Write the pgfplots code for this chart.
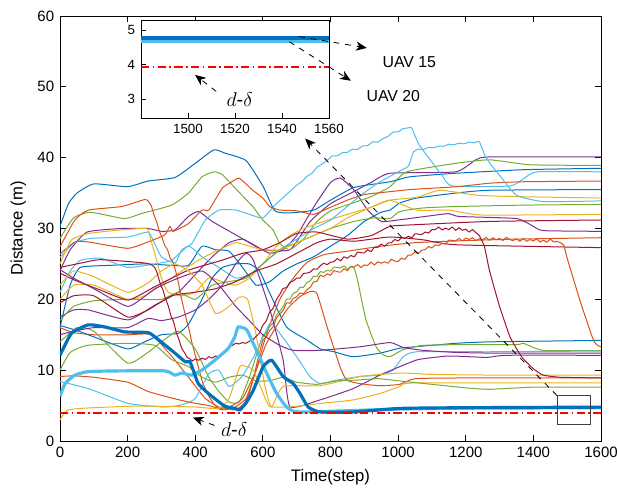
\documentclass[border=0pt]{standalone}
\usepackage{fontspec}
\setmainfont{Liberation Sans}
\usepackage{pgfplots}
\pgfplotsset{compat=1.18}
\usetikzlibrary{arrows.meta}
\definecolor{mb}{RGB}{0,114,189}
\definecolor{mo}{RGB}{217,83,25}
\definecolor{my}{RGB}{237,177,32}
\definecolor{mp}{RGB}{126,47,142}
\definecolor{mg}{RGB}{119,172,48}
\definecolor{mc}{RGB}{77,190,238}
\definecolor{mr}{RGB}{162,20,47}
\tikzset{
  ln/.style={line width=0.6pt, smooth, tension=0.3},
  fat/.style={line width=1.9pt, smooth, tension=0.3},
  ann/.style={black, line width=0.5pt, dash pattern=on 3.5pt off 3.5pt,
    -{Stealth[length=6.5pt,width=5.5pt,inset=2pt]}},
}
\begin{document}
\begin{tikzpicture}
\useasboundingbox (-36pt,-31.8pt) rectangle (334.8pt,264.6pt);
\begin{axis}[
  name=main, at={(0pt,0pt)}, anchor=south west,
  scale only axis, width=324.6pt, height=255pt,
  xmin=0, xmax=1600, ymin=0, ymax=60,
  xtick={0,200,...,1600}, ytick={0,10,...,60},
  tick align=inside, xtick pos=both, ytick pos=both,
  major tick length=3.5pt,
  tick style={black, line width=0.5pt},
  axis line style={line width=0.5pt},
  xlabel={Time(step)}, ylabel={Distance (m)},
  no markers,
  /pgf/number format/assume math mode=true,
  /pgf/number format/1000 sep={},
  tick label style={font=\fontsize{9}{11}\selectfont},
  label style={font=\fontsize{10}{12}\selectfont},
]
% high-ending lines
\addplot[mp,ln] coordinates {(0,24)(30,27)(80,29.5)(180,30)(260,30)(300,29.6)(340,29.8)(380,31.7)(410,32.4)(450,31)(520,29.1)(560,28)(600,27)(680,27)(740,31)(800,33.5)(860,35)(920,36.5)(976,37.8)(1170,38)(1230,39.7)(1270,40.1)(1600,40.1)};
\addplot[mp,ln] coordinates {(0,17.5)(40,18.5)(84,18.5)(202,17.1)(281,19.2)(350,21)(400,23.5)(450,26)(500,28)(540,28.5)(580,27.5)(620,26.5)(660,27)(700,29)(750,33)(800,36.5)(830,37.1)(870,35.4)(910,32.6)(950,31)(1000,31.2)(1080,31.7)(1150,32.1)(1180,31.7)(1350,31.4)(1400,30.3)(1430,29.7)(1600,29.6)};
\addplot[mg,ln] coordinates {(0,28.6)(40,31.5)(90,32.3)(190,31.4)(240,32.1)(330,33.3)(380,35)(420,37.3)(455,38)(480,37.6)(520,35.6)(570,33.1)(600,31.2)(630,29.8)(650,27.9)(680,27)(720,28.5)(760,31)(800,32.5)(860,33.5)(920,34.5)(976,35.9)(1025,38)(1170,39.2)(1270,39.7)(1390,39)(1600,38.9)};
\addplot[mb,ln] coordinates {(0,30.3)(25,33.5)(50,35)(100,36.3)(200,35.9)(260,36.7)(340,37.2)(400,39.2)(455,41.1)(490,40.6)(550,39.6)(600,36)(635,32.5)(680,32.2)(750,32.6)(800,34)(870,35.8)(976,36.6)(1035,37.3)(1170,37.8)(1370,38.3)(1600,38.5)};
\addplot[mc,ln] coordinates {(0,25.9)(40,27.9)(90,28.6)(200,28.8)(260,29.5)(275,28.4)(300,26)(340,25.1)(360,27)(390,27.9)(430,31.2)(470,32.6)(520,32.6)(560,32)(600,31.5)(640,33.5)(700,36.1)(715,36.6)(730,37.35)(745,37.8)(760,38.65)(775,39.1)(790,39.6)(805,40.25)(820,40.25)(835,40.7)(850,40.75)(865,41.2)(880,41.15)(895,41.65)(910,41.7)(925,42.25)(940,42.2)(955,42.7)(970,43.0)(985,43.6)(1000,43.65)(1015,44.1)(1030,44.2)(1040,44.2)(1060,42)(1090,40)(1130,37.5)(1160,36)(1330,36)(1370,37)(1410,38)(1600,38)};
\addplot[mo,ln] coordinates {(0,26.4)(44,28.1)(84,28.1)(200,27.2)(260,28.1)(310,29.1)(325,30.3)(335,29.6)(380,30.7)(420,32.6)(440,32.6)(480,35.7)(505,36.5)(530,37.1)(570,35.4)(600,34.3)(620,33.1)(650,32.6)(700,32.5)(750,32)(800,33)(850,34)(900,34.8)(976,35.2)(1035,35.5)(1173,35.9)(1272,36.4)(1370,36.6)(1600,36.7)};
\addplot[mb,ln] coordinates {(0,16)(30,22)(60,24.5)(150,24.8)(250,25)(330,24.8)(380,24.8)(420,27.5)(460,27)(500,26.8)(540,24.5)(580,22)(620,22.5)(660,24)(700,25)(750,26)(800,27.5)(850,29)(900,31)(950,32.3)(976,32.6)(1005,33.6)(1055,34.3)(1170,35)(1270,35.4)(1600,35.5)};
\addplot[my,ln] coordinates {(0,25)(34,28.4)(84,29.3)(180,29.8)(256,30)(266,28.8)(280,26.5)(300,23)(320,21)(360,20.5)(400,21)(440,23)(480,22.5)(520,22)(560,23)(600,25)(640,27.5)(680,29)(720,30)(780,31)(850,32)(920,33)(976,34)(1055,34.4)(1124,35.4)(1232,34.7)(1350,34.5)(1600,34.3)};
\addplot[mc,ln] coordinates {(0,21)(30,24)(60,25.5)(120,25.8)(200,24.5)(280,25)(330,25.5)(380,27.5)(420,26)(470,24.5)(520,23)(560,23.5)(600,25)(650,27)(700,28.5)(750,30)(800,31.2)(890,34.7)(940,36.4)(1000,38)(1030,38.8)(1045,40.8)(1060,41.2)(1075,41.15)(1090,41.45)(1105,41.4)(1120,41.65)(1135,41.6)(1150,41.9)(1165,41.8)(1180,42.05)(1195,41.95)(1210,42.2)(1225,42.1)(1240,42.25)(1260,40)(1300,37.5)(1350,34.7)(1430,33.8)(1600,33.9)};
\addplot[mg,ln] coordinates {(0,17)(40,19)(100,19.8)(200,20)(300,20)(350,21)(400,20)(450,22)(500,22.5)(550,23)(600,25)(650,27)(700,28)(750,29)(800,30)(870,31)(930,31.5)(976,31.4)(1005,32.4)(1074,32.9)(1170,33.1)(1370,33.3)(1600,33.4)};
\addplot[my,ln] coordinates {(0,20)(40,22)(100,22)(200,20)(250,20.5)(300,22)(360,24)(420,25.8)(470,27)(520,28)(560,27.5)(600,27)(650,27)(700,28)(750,29)(800,30)(850,31.5)(920,33)(976,34)(1055,32.6)(1150,32.6)(1250,31.9)(1600,32)};
\addplot[mr,ln] coordinates {(0,23.7)(44,22.7)(120,21.3)(202,19.9)(281,21.8)(379,24.1)(478,25.5)(540,26.5)(600,27)(650,28)(700,29.3)(760,29.5)(850,28.5)(920,29)(976,30.3)(1035,30.5)(1272,31)(1600,31.2)};
\addplot[mo,ln] coordinates {(0,16)(40,15.3)(100,15)(200,15)(270,15)(330,12)(380,9)(430,6)(470,4.8)(510,4.6)(550,6)(580,10)(610,15)(650,20)(690,23)(730,25.2)(780,26.3)(850,26.8)(950,27.5)(1050,28)(1200,28.3)(1350,28.5)(1600,28.7)};
\addplot[mr,ln] coordinates {(0,19.5)(40,20.5)(100,20.5)(200,17.5)(260,18.5)(330,20.5)(400,21)(460,21.5)(520,22.5)(580,24)(640,25)(700,26.5)(760,28)(800,28.5)(870,28.2)(976,28.8)(1074,28.4)(1173,27.7)(1600,27.3)};
% low-ending lines
\addplot[mb,ln] coordinates {(0,16.3)(50,15.6)(100,14.7)(200,13)(250,14)(300,15)(350,15.2)(380,16.5)(420,20)(450,23)(480,24.5)(520,25)(560,25)(590,24)(621,20.8)(670,16.1)(729,14.3)(770,13)(810,12.6)(867,11.9)(946,12.4)(1005,13.1)(1074,13.4)(1173,13.8)(1272,14)(1600,14.2)};
\addplot[mo,ln] coordinates {(0,27.4)(44,31.2)(84,32.6)(182,33.1)(251,34.1)(262,33.8)(270,33.2)(278,31.9)(286,30.9)(294,29.6)(302,28.7)(310,27.6)(318,27.0)(326,25.8)(334,25.3)(342,24.0)(350,22.4)(358,20.4)(366,18.7)(374,17.1)(382,15.7)(390,13.9)(398,12.5)(406,11.0)(414,9.6)(422,8.2)(430,7.4)(438,6.5)(446,5.9)(454,5.3)(462,4.9)(470,4.5)(485,4.4)(500,4.5)(515,4.4)(530,4.7)(545,5.3)(560,6.8)(575,9.5)(590,12.5)(600,14.2)(610,14.7)(620,15.6)(630,16.1)(640,17.35)(650,17.9)(660,18.45)(670,19.5)(680,19.45)(690,20.15)(700,20.35)(710,20.9)(720,20.8)(730,21.35)(740,21.7)(750,22.45)(760,22.55)(770,23.4)(780,23.2)(790,23.6)(800,23.4)(810,24.05)(820,23.9)(830,23.85)(840,24.3)(850,24.05)(860,24.65)(870,24.55)(880,24.9)(890,24.5)(900,24.85)(910,24.8)(920,25.25)(930,24.85)(940,25.3)(950,25.1)(960,25.3)(970,25.1)(980,25.65)(990,25.4)(1000,25.35)(1010,25.8)(1020,25.65)(1030,26.25)(1040,26.25)(1050,26.7)(1060,26.5)(1070,26.95)(1080,27.0)(1090,27.45)(1100,27.25)(1110,27.7)(1120,27.6)(1130,27.9)(1140,27.8)(1150,28.35)(1160,28.3)(1170,28.25)(1180,28.6)(1190,28.25)(1200,28.65)(1210,28.45)(1220,28.7)(1230,28.3)(1240,28.55)(1250,28.4)(1260,28.75)(1270,28.35)(1280,28.7)(1290,28.4)(1300,28.6)(1310,28.3)(1320,28.75)(1330,28.45)(1340,28.3)(1350,28.55)(1360,28.2)(1370,28.6)(1380,28.2)(1390,28.45)(1400,28.25)(1410,28.55)(1420,28.1)(1430,28.35)(1440,28.05)(1450,28.5)(1460,28.1)(1470,28.15)(1480,28.0)(1490,27.6)(1500,25.8)(1540,19.5)(1577,14.3)(1590,13.5)(1600,13.3)};
\addplot[mg,ln] coordinates {(0,14)(50,16)(100,15.5)(200,11)(260,12.5)(300,14)(350,15.5)(400,13)(440,9)(470,7)(500,5.5)(530,5.5)(560,9)(580,12)(600,14.9)(610,15.3)(620,16.2)(630,16.6)(640,17.75)(650,18.3)(660,18.95)(670,20.0)(680,20.05)(690,20.85)(700,21.05)(710,21.7)(720,21.7)(730,22.35)(740,22.6)(750,23.25)(760,23.25)(770,23.9)(780,23.8)(790,24.1)(800,24.0)(810,24.55)(820,24.5)(830,24.45)(840,24.7)(850,24.25)(860,24.55)(870,24.4)(880,22.7)(905,17.1)(935,13.3)(955,12.2)(976,11.9)(1015,12.9)(1074,13.5)(1173,13.6)(1350,13.6)(1370,13.8)(1429,12.8)(1600,12.75)};
\addplot[mc,ln] coordinates {(0,8.4)(84,7.4)(202,5.3)(310,4.8)(360,5.1)(400,6)(440,9.5)(470,10)(500,7.7)(540,9.2)(580,12.5)(621,16.6)(650,15.2)(700,11.9)(739,9.1)(769,8.1)(818,8.6)(887,9.1)(946,9.3)(985,10)(1015,11.9)(1055,12.6)(1272,12.6)(1600,12.7)};
\addplot[mp,ln] coordinates {(0,15)(40,15.5)(100,16)(200,16)(260,17.3)(300,17)(350,17.5)(400,18.5)(440,20)(480,22)(520,25)(550,26.5)(572,25.5)(621,18.5)(660,11.4)(680,4.85)(769,5.8)(867,7.4)(946,9.3)(1005,10.5)(1060,11.5)(1150,12)(1262,11.8)(1321,12.1)(1600,12.1)};
\addplot[mp,ln] coordinates {(0,24.2)(40,23)(100,21.5)(202,19)(281,21.5)(350,23)(420,24)(470,22)(520,19)(560,17)(600,15)(650,13.5)(690,12.8)(769,12.8)(887,13.3)(976,13.9)(1015,13.2)(1074,12.8)(1173,12.5)(1300,12.4)(1600,12.4)};
\addplot[my,ln] coordinates {(0,22)(40,24)(100,23.2)(200,21)(260,22.3)(300,24)(340,25)(380,24)(420,22)(460,18)(500,19)(530,20.3)(555,20)(580,15)(605,8)(625,4.8)(660,7.7)(769,7.8)(887,9.1)(1005,9.6)(1100,9.4)(1300,9.3)(1600,9.3)};
\addplot[mo,ln] coordinates {(0,9.1)(40,9.2)(100,9)(200,8.3)(260,7)(320,6.2)(380,5.5)(440,5)(470,4.6)(500,4.8)(540,6)(580,10)(611,13.8)(670,18.5)(710,20.4)(740,21.1)(760,20.8)(790,16.1)(828,10.5)(848,8.6)(887,8.1)(946,7.8)(1005,8)(1050,8.8)(1200,8.9)(1600,8.9)};
\addplot[mr,ln] coordinates {(0,24.5)(60,25.1)(120,25.6)(256,25.1)(280,24.5)(288,23.6)(296,22.3)(304,21.4)(312,20.1)(320,19.1)(328,17.7)(336,16.8)(344,15.3)(352,14.3)(360,13.1)(368,12.5)(376,11.8)(384,11.6)(392,11.3)(400,11.6)(410,11.4)(420,11.7)(430,11.5)(440,11.9)(450,11.7)(460,12.0)(470,11.9)(480,12.4)(490,12.8)(500,13.3)(510,13.5)(520,13.8)(530,13.7)(540,13.9)(550,13.8)(560,14.1)(570,14.25)(580,14.8)(590,15.25)(600,16.35)(610,16.95)(620,18.2)(630,18.7)(640,19.95)(650,20.7)(660,21.55)(670,21.65)(680,22.4)(690,22.6)(700,23.0)(710,23.0)(720,23.65)(730,23.7)(740,23.85)(750,24.3)(760,24.25)(770,24.75)(780,25.1)(790,24.9)(800,25.25)(810,25.3)(820,25.75)(830,25.45)(840,26.0)(850,25.8)(860,26.2)(870,26.0)(880,26.65)(890,26.6)(900,26.55)(910,27.0)(920,26.75)(930,27.35)(940,27.35)(950,27.8)(960,27.5)(970,27.95)(980,28.0)(990,28.45)(1000,28.25)(1010,28.7)(1020,28.6)(1030,28.9)(1040,28.7)(1050,29.25)(1060,29.2)(1070,29.15)(1080,29.5)(1090,29.35)(1100,29.85)(1110,29.85)(1120,30.2)(1130,29.8)(1140,30.05)(1150,29.85)(1160,30.2)(1170,29.75)(1180,30.1)(1190,29.75)(1200,29.9)(1210,29.5)(1220,29.85)(1230,29.4)(1240,29.0)(1255,27.5)(1270,24.1)(1300,19)(1331,14.7)(1365,11.9)(1400,10.2)(1429,9.3)(1480,9.0)(1600,8.9)};
\addplot[my,ln] coordinates {(0,3)(20,4.3)(60,4.6)(200,4.9)(300,4.9)(400,4.8)(470,4.6)(500,6)(532,10.5)(552,10.5)(572,10)(601,6.7)(621,4.85)(690,4.85)(769,5.3)(867,5.8)(946,6.7)(1005,7.7)(1050,8.2)(1600,8.2)};
\addplot[mg,ln] coordinates {(0,10)(30,12.5)(80,13.5)(200,13.8)(280,13.5)(330,11.5)(380,10.5)(420,9)(460,8.3)(500,9)(540,9.3)(580,8.5)(620,8.5)(660,9)(700,8.3)(760,8)(820,8.5)(880,8.6)(940,8.8)(1000,8.5)(1100,8)(1200,7.5)(1270,7.3)(1400,7.6)(1600,7.6)};
% UAV 20 and UAV 15
\addplot[mc,fat] coordinates {(0,6.3)(15,8.1)(44,9.3)(84,9.8)(182,9.9)(310,9.9)(340,9.3)(360,9.6)(389,9.3)(419,10)(458,11.4)(498,13.1)(517,14.7)(527,16.1)(552,15.7)(581,12.8)(611,9.6)(641,6.7)(670,4.8)(700,4.1)(800,4.2)(1000,4.5)(1200,4.65)(1600,4.68)};
\addplot[mb,fat] coordinates {(0,12.1)(34,15.2)(84,16.4)(133,16.1)(192,15.4)(261,15.3)(291,14.3)(340,12.4)(370,11.2)(384,11.2)(394,10)(409,8.1)(439,6.7)(468,5.6)(488,4.9)(517,4.6)(532,4.4)(552,5.5)(572,7.2)(601,10.5)(626,11.4)(660,9.1)(690,8.1)(710,6.7)(734,4.8)(769,4.1)(867,4.1)(1005,4.6)(1200,4.7)(1600,4.78)};
\addplot[red,line width=1.1pt,dash pattern=on 5pt off 2pt on 1pt off 2pt] coordinates {(0,3.93)(1600,3.93)};
\draw[black!75,line width=0.5pt] (axis cs:1470,2.3) rectangle (axis cs:1570,6.4);
\draw[ann] (axis cs:1470,6.4) -- (axis cs:725,42.7);
\draw[ann] (axis cs:457,2.2) -- (axis cs:393,3.3);
\node[font=\fontsize{12}{14}\selectfont] at (axis cs:515,1.6) {$d$-$\delta$};
\end{axis}
\begin{axis}[
  at={(48.6pt,193.8pt)}, anchor=south west,
  scale only axis, width=112.8pt, height=58.8pt,
  xmin=1480, xmax=1560, ymin=2.45, ymax=5.29,
  xtick={1500,1520,1540,1560}, ytick={3,4,5},
  tick align=inside, xtick pos=bottom, ytick pos=left,
  major tick length=3pt,
  tick style={black, line width=0.5pt},
  axis line style={line width=0.5pt},
  axis background/.style={fill=white},
  clip=false, no markers,
  /pgf/number format/assume math mode=true,
  /pgf/number format/1000 sep={},
  tick label style={font=\fontsize{8}{10}\selectfont},
]
\addplot[mc,line width=2.4pt] coordinates {(1480,4.67)(1560,4.67)};
\addplot[mb,line width=2.2pt] coordinates {(1480,4.77)(1560,4.77)};
\addplot[red,line width=1.1pt,dash pattern=on 5pt off 2pt on 1pt off 2pt] coordinates {(1480,3.93)(1560,3.93)};
\draw[ann] (axis cs:1547.3,4.81) -- (axis cs:1576.1,4.48);
\draw[ann] (axis cs:1543.1,4.66) -- (axis cs:1569.3,3.53);
\node[anchor=west,font=\fontsize{9.5}{11}\selectfont] at (axis cs:1580.3,4.08) {UAV 15};
\node[anchor=west,font=\fontsize{9.5}{11}\selectfont] at (axis cs:1573.5,3.1) {UAV 20};
\draw[ann] (axis cs:1512,3.22) -- (axis cs:1503,3.70);
\node[font=\fontsize{12}{14}\selectfont] at (axis cs:1522,2.98) {$d$-$\delta$};
\end{axis}
\end{tikzpicture}
\end{document}
